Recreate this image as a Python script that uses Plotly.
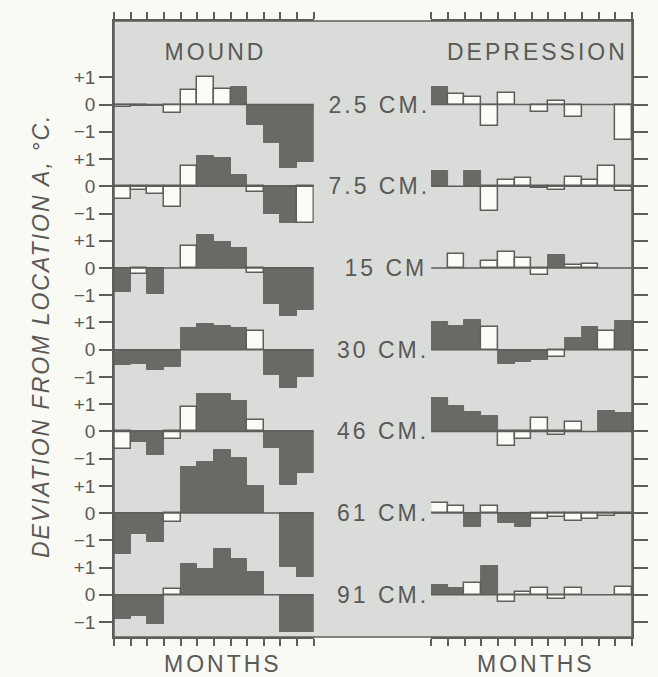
import plotly.graph_objects as go

# ---------------- data ----------------
MONTH_COUNT = 12
DEPTH_LABELS = ["2.5 CM.", "7.5 CM.", "15 CM", "30 CM.", "46 CM.", "61 CM.", "91 CM."]
TICK_TEXT = ["+1", "0", "\u22121"]

# MOUND: deviation (deg C) per month, and bar style (D = dark, W = white)
mound_2_5 = [-0.08, -0.06, -0.04, -0.29, 0.52, 1.00, 0.58, 0.64, -0.75, -1.42, -2.33, -2.09]
mound_7_5 = [-0.46, -0.15, -0.27, -0.75, 0.75, 1.11, 1.03, 0.42, -0.22, -1.00, -1.33, -1.36]
mound_15 = [-0.87, -0.23, -0.97, 0.00, 0.82, 1.22, 0.95, 0.73, -0.20, -1.32, -1.76, -1.56]
mound_30 = [-0.57, -0.51, -0.75, -0.63, 0.81, 0.95, 0.86, 0.79, 0.67, -0.93, -1.42, -0.99]
mound_46 = [-0.63, -0.39, -0.85, -0.29, 0.88, 1.37, 1.37, 1.13, 0.42, -0.60, -1.95, -1.54]
mound_61 = [-1.51, -0.77, -1.06, -0.34, 1.70, 1.88, 2.30, 2.03, 1.01, 0.00, -1.98, -2.35]
mound_91 = [-0.90, -0.78, -1.08, 0.22, 1.12, 0.95, 1.67, 1.31, 0.82, 0.00, -1.38, -1.38]

mound_kind_2_5 = "WWDWWWWDDDDD"
mound_kind_7_5 = "WWWWWDDDWDDW"
mound_kind_15 = "DWDWWDDDWDDD"
mound_kind_30 = "DDDDDDDDWDDD"
mound_kind_46 = "WDDWWDDDWDDD"
mound_kind_61 = "DDDWDDDDDDDD"
mound_kind_91 = "DDDWDDDDDDDD"

# DEPRESSION
depr_2_5 = [0.64, 0.40, 0.28, -0.78, 0.44, 0.00, -0.27, 0.13, -0.45, 0.00, 0.00, -1.30]
depr_7_5 = [0.57, 0.00, 0.57, -0.91, 0.22, 0.30, -0.08, -0.12, 0.33, 0.22, 0.75, -0.18]
depr_15 = [0.00, 0.52, 0.00, 0.25, 0.60, 0.37, -0.24, 0.48, 0.10, 0.16, 0.00, 0.00]
depr_30 = [1.00, 0.86, 1.09, 0.85, -0.52, -0.45, -0.39, -0.27, 0.42, 0.82, 0.69, 1.05]
depr_46 = [1.21, 0.94, 0.73, 0.55, -0.55, -0.29, 0.48, -0.15, 0.36, 0.00, 0.76, 0.67]
depr_61 = [0.36, 0.27, -0.50, 0.27, -0.36, -0.52, -0.20, -0.16, -0.30, -0.20, -0.10, -0.05]
depr_91 = [0.35, 0.25, 0.43, 1.05, -0.25, 0.11, 0.24, -0.16, 0.24, 0.00, 0.00, 0.30]

depr_kind_2_5 = "DWWWWWWWWWWW"
depr_kind_7_5 = "DWDWWWWWWWWW"
depr_kind_15 = "WWWWWWWDWWWW"
depr_kind_30 = "DDDWDDDWDDWD"
depr_kind_46 = "DDDDWWWWWWDD"
depr_kind_61 = "WWDWDDWWWWWW"
depr_kind_91 = "DDWDWWWWWWWW"

mound_values = [mound_2_5, mound_7_5, mound_15, mound_30, mound_46, mound_61, mound_91]
mound_kinds = [mound_kind_2_5, mound_kind_7_5, mound_kind_15, mound_kind_30,
               mound_kind_46, mound_kind_61, mound_kind_91]
depr_values = [depr_2_5, depr_7_5, depr_15, depr_30, depr_46, depr_61, depr_91]
depr_kinds = [depr_kind_2_5, depr_kind_7_5, depr_kind_15, depr_kind_30,
              depr_kind_46, depr_kind_61, depr_kind_91]

# ---------------- style ----------------
PAPER = "#fafaf4"
PANEL = "#dadcd9"
DARK = "#6a6965"
LIGHT = "#fcfcf7"
INK = "#5e5d5a"
TEXT = "#595957"
FONT = "Liberation Sans, Arial, Helvetica, sans-serif"
ROW_STEP = 3.0
Y_RANGE = [-19.55, 3.07]

W, H = 658, 677
ML, MR, MT, MB = 114, 18, 15, 40
PW = W - ML - MR
PH = H - MT - MB

fig = go.Figure()


def add_panel(values, kinds, xa, ya):
    for kind, fill, lc, lw in (("D", DARK, DARK, 1), ("W", LIGHT, INK, 1.5)):
        xs, ys, bs = [], [], []
        for r, (row, kk) in enumerate(zip(values, kinds)):
            off = -ROW_STEP * r
            for m, (v, k) in enumerate(zip(row, kk)):
                if k == kind and v != 0:
                    xs.append(m + 0.5)
                    ys.append(v)
                    bs.append(off)
        fig.add_trace(go.Bar(x=xs, y=ys, base=bs, width=1.0, xaxis=xa, yaxis=ya,
                             marker=dict(color=fill, line=dict(color=lc, width=lw)),
                             showlegend=False, hoverinfo="skip"))
    bx, by = [], []
    for r in range(len(values)):
        off = -ROW_STEP * r
        bx += [0, MONTH_COUNT, None]
        by += [off, off, None]
    fig.add_trace(go.Scatter(x=bx, y=by, mode="lines", xaxis=xa, yaxis=ya,
                             line=dict(color=INK, width=1.5),
                             showlegend=False, hoverinfo="skip"))


add_panel(mound_values, mound_kinds, "x", "y")
add_panel(depr_values, depr_kinds, "x2", "y2")

tickvals, ticktext = [], []
for r in range(len(DEPTH_LABELS)):
    off = -ROW_STEP * r
    for d, t in zip((1, 0, -1), TICK_TEXT):
        tickvals.append(off + d)
        ticktext.append(t)

month_w = 16.9
d1 = (MONTH_COUNT * month_w) / PW
d2 = (436 - ML) / PW

xcommon = dict(range=[0, MONTH_COUNT], tickvals=list(range(MONTH_COUNT + 1)),
               showticklabels=False, ticks="outside", ticklen=7, tickwidth=1.5,
               tickcolor=INK, showline=True, linecolor=INK, linewidth=1.5,
               mirror="ticks", showgrid=False, zeroline=False, fixedrange=True)
ycommon = dict(range=Y_RANGE, tickvals=tickvals, ticks="outside", tickwidth=1.5,
               tickcolor=INK, showline=True, linecolor=INK, linewidth=1.5,
               showgrid=False, zeroline=False, domain=[0, 1], fixedrange=True)

fig.update_layout(
    width=W, height=H,
    margin=dict(l=ML, r=MR, t=MT, b=MB, pad=0),
    paper_bgcolor=PAPER, plot_bgcolor=PANEL,
    barmode="overlay", bargap=0,
    xaxis=dict(domain=[0, d1], anchor="y", **xcommon),
    xaxis2=dict(domain=[d2, 1], anchor="y2", **xcommon),
    yaxis=dict(anchor="x", side="left", ticklen=13, ticktext=ticktext,
               tickfont=dict(family=FONT, size=19, color=TEXT), **ycommon),
    yaxis2=dict(anchor="x2", side="right", ticklen=14, showticklabels=False, **ycommon),
    font=dict(family=FONT, color=TEXT),
)

fig.add_shape(type="rect", xref="paper", yref="paper", x0=0, x1=1, y0=0, y1=1,
              fillcolor=PANEL, line=dict(width=0), layer="below")
fig.add_shape(type="rect", xref="paper", yref="paper", x0=0, x1=1, y0=0, y1=1,
              line=dict(color=INK, width=1.5), layer="above")


def px_x(px):
    return (px - ML) / PW


def px_y(py):
    return (H - MB - py) / PH


big = dict(family=FONT, size=23, color=TEXT)
fig.add_annotation(text="MOUND", xref="paper", yref="paper", x=px_x(217), y=px_y(46),
                   showarrow=False, font=big, xanchor="center", yanchor="middle")
fig.add_annotation(text="DEPRESSION", xref="paper", yref="paper", x=px_x(544), y=px_y(46),
                   showarrow=False, font=big, xanchor="center", yanchor="middle")
fig.add_annotation(text="MONTHS", xref="paper", yref="paper", x=px_x(225), y=px_y(664),
                   showarrow=False, font=big, xanchor="center", yanchor="middle")
fig.add_annotation(text="MONTHS", xref="paper", yref="paper", x=px_x(543), y=px_y(664),
                   showarrow=False, font=big, xanchor="center", yanchor="middle")
fig.add_annotation(text="DEVIATION FROM LOCATION A, \u00b0C.", xref="paper", yref="paper",
                   x=px_x(40), y=px_y(333), textangle=-90,
                   showarrow=False, font=dict(family=FONT, size=23, color=TEXT, style="italic"),
                   xanchor="center", yanchor="middle")

for r, lab in enumerate(DEPTH_LABELS):
    fig.add_annotation(text=lab, xref="paper", yref="y", x=px_x(427),
                       y=-ROW_STEP * r, showarrow=False, font=big,
                       xanchor="right", yanchor="middle")

post = """
document.documentElement.style.margin = '0';
document.documentElement.style.overflow = 'hidden';
document.body.style.margin = '0';
document.body.style.padding = '0';
document.body.style.overflow = 'hidden';
document.querySelectorAll('.annotation-text').forEach(function(t){
  t.style.letterSpacing = (t.textContent.length > 20) ? '2px' : '3px';
});
"""

fig.write_html("out.html", post_script=post, config={"displayModeBar": False})
